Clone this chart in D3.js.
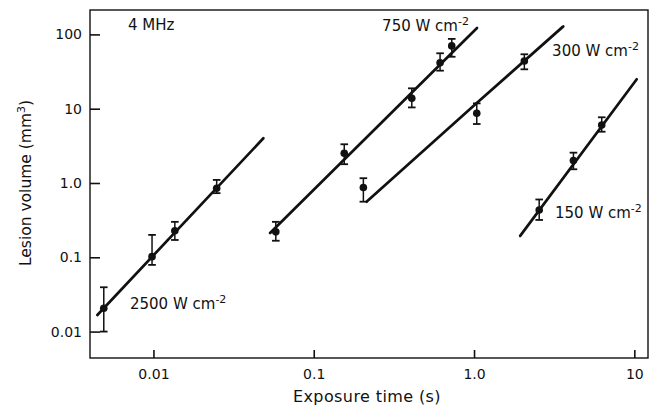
<!DOCTYPE html>
<html>
<head>
<meta charset="utf-8">
<script src="https://cdn.jsdelivr.net/npm/d3@7"></script>
<style>
  html, body { margin: 0; padding: 0; background: #fff; }
  svg { display: block; }
  text { font-family: "DejaVu Sans", "Liberation Sans", sans-serif; fill: #111; }
</style>
</head>
<body>
<svg id="chart" width="655" height="414"></svg>
<script>
// ---- Data ----
const xTickValues = [0.01, 0.1, 1, 10];
const xTickLabels = ["0.01", "0.1", "1.0", "10"];
const yTickValues = [0.01, 0.1, 1, 10, 100];
const yTickLabels = ["0.01", "0.1", "1.0", "10", "100"];

// 2500 W cm-2
const t2500 = [0.0049, 0.0098, 0.0136, 0.0248];
const v2500 = [0.0206, 0.102, 0.228, 0.85];
const lo2500 = [0.010, 0.079, 0.171, 0.73];
const hi2500 = [0.0395, 0.20, 0.30, 1.10];
const fit2500 = [[0.00447, 0.0167], [0.0485, 4.0]];

// 750 W cm-2
const t750 = [0.058, 0.155, 0.409, 0.614, 0.726];
const v750 = [0.22, 2.51, 13.8, 41.6, 70];
const lo750 = [0.167, 1.79, 10.4, 32.5, 50];
const hi750 = [0.30, 3.32, 18.8, 55.7, 87];
const fit750 = [[0.0534, 0.212], [1.044, 122]];

// 300 W cm-2
const t300 = [0.204, 1.04, 2.06];
const v300 = [0.87, 8.67, 43.9];
const lo300 = [0.56, 6.22, 33.9];
const hi300 = [1.16, 11.8, 54];
const fit300 = [[0.214, 0.56], [1.04, 11.9], [3.6, 128]];

// 150 W cm-2
const t150 = [2.55, 4.17, 6.26];
const v150 = [0.433, 2.0, 6.04];
const lo150 = [0.318, 1.53, 4.9];
const hi150 = [0.60, 2.56, 7.66];
const fit150 = [[1.94, 0.194], [10.35, 24.9]];

// label anchors (data coordinates)
const seriesNames = ["2500", "750", "300", "150"];
const labelT = [0.00714, 0.267, 3.07, 3.20];
const labelV = [0.0201, 111, 51.2, 0.338];

// ---- Layout ----
const L = 90, R = 648, T = 10, B = 358;
const svg = d3.select("#chart");
const x = d3.scaleLog().domain([0.00402, 12.17]).range([L, R]);
const y = d3.scaleLog().domain([0.00441, 213]).range([B, T]);

// frame
svg.append("rect").attr("x", L).attr("y", T).attr("width", R - L).attr("height", B - T)
  .attr("fill", "none").attr("stroke", "#111").attr("stroke-width", 1.4);

// axes
const yAxis = d3.axisLeft(y).tickValues(yTickValues)
  .tickFormat((d, i) => yTickLabels[i]).tickSize(-10).tickPadding(8);
const gy = svg.append("g").attr("transform", `translate(${L},0)`).call(yAxis);
gy.select(".domain").remove();
gy.selectAll("line").attr("stroke", "#111").attr("stroke-width", 1.6);
gy.selectAll("text").attr("font-size", 14).attr("fill", "#111")
  .style("font-family", '"DejaVu Sans", sans-serif');

const xAxis = d3.axisBottom(x).tickValues(xTickValues)
  .tickFormat((d, i) => xTickLabels[i]).tickSize(-8).tickPadding(11);
const gx = svg.append("g").attr("transform", `translate(0,${B})`).call(xAxis);
gx.select(".domain").remove();
gx.selectAll("line").attr("stroke", "#111").attr("stroke-width", 1.6);
gx.selectAll("text").attr("font-size", 14).attr("fill", "#111")
  .style("font-family", '"DejaVu Sans", sans-serif');

// axis titles
svg.append("text").attr("x", 367).attr("y", 402).attr("text-anchor", "middle")
  .attr("font-size", 16).attr("letter-spacing", 0.4).text("Exposure time (s)");
const yt = svg.append("text").attr("transform", "translate(31,183) rotate(-90)")
  .attr("text-anchor", "middle").attr("font-size", 15.5);
yt.append("tspan").text("Lesion volume (mm");
yt.append("tspan").attr("font-size", 11).attr("dy", -6).text("3");
yt.append("tspan").attr("dy", 6).text(")");

// fitted lines
const line = d3.line().x(d => x(d[0])).y(d => y(d[1]));
const curve = d3.line().x(d => x(d[0])).y(d => y(d[1])).curve(d3.curveMonotoneX);
[fit2500, fit750, fit150].forEach(f => {
  svg.append("path").attr("d", line(f)).attr("fill", "none")
    .attr("stroke", "#111").attr("stroke-width", 2.7).attr("stroke-linecap", "round");
});
svg.append("path").attr("d", curve(fit300)).attr("fill", "none")
  .attr("stroke", "#111").attr("stroke-width", 2.7).attr("stroke-linecap", "round");

// points with error bars
function drawSeries(ts, vs, los, his) {
  const g = svg.append("g");
  ts.forEach((t, i) => {
    const cx = x(t);
    g.append("line").attr("x1", cx).attr("x2", cx).attr("y1", y(los[i])).attr("y2", y(his[i]))
      .attr("stroke", "#111").attr("stroke-width", 1.5);
    [los[i], his[i]].forEach(v => {
      g.append("line").attr("x1", cx - 3.8).attr("x2", cx + 3.8).attr("y1", y(v)).attr("y2", y(v))
        .attr("stroke", "#111").attr("stroke-width", 1.8);
    });
    g.append("circle").attr("cx", cx).attr("cy", y(vs[i])).attr("r", 3.8).attr("fill", "#111");
  });
}
drawSeries(t2500, v2500, lo2500, hi2500);
drawSeries(t750, v750, lo750, hi750);
drawSeries(t300, v300, lo300, hi300);
drawSeries(t150, v150, lo150, hi150);

// labels
svg.append("text").attr("x", 128).attr("y", 30).attr("font-size", 15).text("4 MHz");
seriesNames.forEach((name, i) => {
  const tx = svg.append("text").attr("x", x(labelT[i])).attr("y", y(labelV[i])).attr("font-size", 15);
  tx.append("tspan").text(name + " W cm");
  tx.append("tspan").attr("font-size", 11).attr("dy", -6).text("-2");
});
</script>
</body>
</html>
